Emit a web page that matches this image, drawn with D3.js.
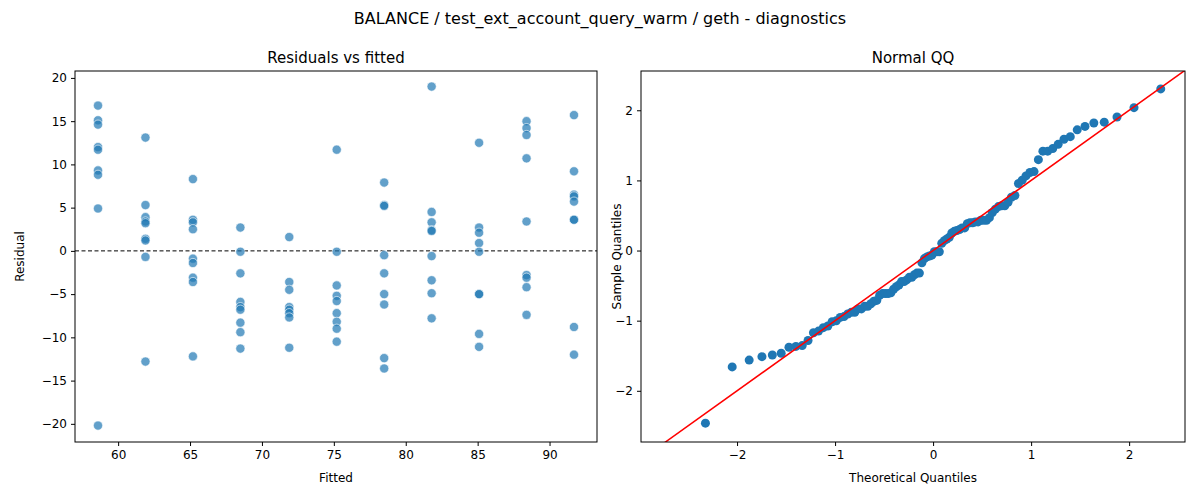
<!DOCTYPE html>
<html><head><meta charset="utf-8">
<script src="https://cdn.jsdelivr.net/npm/d3@7"></script>
<style>body{margin:0;background:#fff;font-family:"DejaVu Sans",sans-serif}</style>
</head><body><svg width="1200" height="500"></svg>
<script>
const fittedLevels = [58.6, 61.9, 65.2, 68.5, 71.9, 75.2, 78.5, 81.8, 85.1, 88.4, 91.7]
const residualGroups = [
  [16.8, 15.1, 14.6, 12.0, 11.7, 9.3, 8.8, 4.9, -20.2],
  [13.1, 5.3, 3.9, 3.4, 3.2, 1.4, 1.2, -0.7, -12.8],
  [8.3, 3.6, 3.3, 2.5, -0.9, -1.4, -3.1, -3.6, -12.2],
  [2.7, -0.1, -2.6, -5.9, -6.5, -6.8, -8.3, -9.4, -11.3],
  [1.6, -3.6, -4.5, -6.5, -6.8, -7.2, -7.7, -11.2],
  [11.7, -0.1, -4.0, -5.2, -5.8, -7.2, -8.2, -9.0, -10.5],
  [7.9, 5.3, 5.2, -0.5, -2.6, -5.0, -6.2, -12.4, -13.6],
  [19.0, 4.5, 3.3, 2.4, 2.3, -0.6, -3.4, -4.9, -7.8],
  [12.5, 2.7, 2.1, 0.9, -0.1, -5.0, -5.0, -9.6, -11.1],
  [15.0, 14.2, 13.4, 10.7, 3.4, -2.8, -3.1, -4.2, -7.4],
  [15.7, 9.2, 6.5, 6.3, 5.7, 3.6, 3.6, -8.8, -12.0]
]
const xTicksL = [60, 65, 70, 75, 80, 85, 90]
const yTicksL = [-20, -15, -10, -5, 0, 5, 10, 15, 20]
const qqTicks = [-2, -1, 0, 1, 2]

const svg = d3.select('svg')
const blue = '#1f77b4'

svg.append('text').attr('x', 600).attr('y', 24).attr('text-anchor', 'middle')
  .attr('font-size', 16).text('BALANCE / test_ext_account_query_warm / geth - diagnostics')

function frame(x0, x1, y0, y1, title, xlab, ylab, ylabOff, xs, ys, xt, yt) {
  const g = svg.append('g')
  g.append('g').attr('transform', `translate(0,${y1})`)
    .call(d3.axisBottom(xs).tickValues(xt).tickSize(4).tickPadding(4).tickFormat(d3.format('d')))
  g.append('g').attr('transform', `translate(${x0},0)`)
    .call(d3.axisLeft(ys).tickValues(yt).tickSize(4).tickPadding(4).tickFormat(d => d < 0 ? '\u2212' + Math.abs(d) : d))
  g.selectAll('.domain').remove()
  g.selectAll('.tick text').attr('font-size', 12).attr('font-family', 'DejaVu Sans').attr('fill', '#000')
  g.selectAll('.tick line').attr('stroke', '#000')
  g.append('rect').attr('x', x0).attr('y', y0).attr('width', x1 - x0).attr('height', y1 - y0)
    .attr('fill', 'none').attr('stroke', '#000').attr('stroke-width', 1)
  g.append('text').attr('x', (x0 + x1) / 2).attr('y', y0 - 8).attr('text-anchor', 'middle')
    .attr('font-size', 15).text(title)
  g.append('text').attr('x', (x0 + x1) / 2).attr('y', y1 + 40).attr('text-anchor', 'middle')
    .attr('font-size', 12).text(xlab)
  g.append('text').attr('transform', `translate(${x0 - ylabOff},${(y0 + y1) / 2}) rotate(-90)`)
    .attr('text-anchor', 'middle').attr('font-size', 12).text(ylab)
}

// Left: residuals vs fitted
const L = { x0: 75, x1: 597, y0: 71, y1: 442 }
const xL = d3.scaleLinear().domain([57.0, 93.3]).range([L.x0, L.x1])
const yL = d3.scaleLinear().domain([-22.1, 20.8]).range([L.y1, L.y0])
const pts = []
residualGroups.forEach((g, i) => g.forEach(r => pts.push({ f: fittedLevels[i], r })))
svg.append('line').attr('x1', L.x0).attr('x2', L.x1).attr('y1', yL(0)).attr('y2', yL(0))
  .attr('stroke', '#000').attr('stroke-dasharray', '4,2.5').attr('stroke-width', 1)
svg.append('g').selectAll('circle').data(pts).join('circle')
  .attr('cx', d => xL(d.f)).attr('cy', d => yL(d.r)).attr('r', 4.6)
  .attr('fill', blue).attr('fill-opacity', 0.7).attr('stroke', '#fff').attr('stroke-width', 0.6)
frame(L.x0, L.x1, L.y0, L.y1, 'Residuals vs fitted', 'Fitted', 'Residual', 51, xL, yL, xTicksL, yTicksL)

// Right: normal QQ
const R = { x0: 641, x1: 1185, y0: 71, y1: 442 }
const xR = d3.scaleLinear().domain([-2.98, 2.57]).range([R.x0, R.x1])
const yR = d3.scaleLinear().domain([-2.73, 2.56]).range([R.y1, R.y0])
const res = pts.map(d => d.r)
const m = d3.mean(res), sd = d3.deviation(res)
const sample = res.map(r => (r - m) / sd).sort(d3.ascending)
function invNorm(p) {
  const a = [-39.69683028665376, 220.9460984245205, -275.9285104469687, 138.357751867269, -30.66479806614716, 2.506628277459239]
  const b = [-54.47609879822406, 161.5858368580409, -155.6989798598866, 66.80131188771972, -13.28068155288572]
  const c = [-0.007784894002430293, -0.3223964580411365, -2.400758277161838, -2.549732539343734, 4.374664141464968, 2.938163982698783]
  const dd = [0.007784695709041462, 0.3224671290700398, 2.445134137142996, 3.754408661907416]
  const pl = 0.02425
  let q, r
  if (p < pl) { q = Math.sqrt(-2 * Math.log(p)); return (((((c[0]*q+c[1])*q+c[2])*q+c[3])*q+c[4])*q+c[5])/((((dd[0]*q+dd[1])*q+dd[2])*q+dd[3])*q+1) }
  if (p > 1 - pl) { q = Math.sqrt(-2 * Math.log(1 - p)); return -(((((c[0]*q+c[1])*q+c[2])*q+c[3])*q+c[4])*q+c[5])/((((dd[0]*q+dd[1])*q+dd[2])*q+dd[3])*q+1) }
  q = p - 0.5; r = q * q
  return (((((a[0]*r+a[1])*r+a[2])*r+a[3])*r+a[4])*r+a[5])*q/(((((b[0]*r+b[1])*r+b[2])*r+b[3])*r+b[4])*r+1)
}
const n = sample.length
const qq = sample.map((s, i) => ({ t: invNorm((i + 1) / (n + 1)), s }))
const cr = svg.append('defs').append('clipPath').attr('id', 'cr')
cr.append('rect').attr('x', R.x0).attr('y', R.y0).attr('width', R.x1 - R.x0).attr('height', R.y1 - R.y0)
svg.append('g').attr('clip-path', 'url(#cr)').selectAll('circle').data(qq).join('circle')
  .attr('cx', d => xR(d.t)).attr('cy', d => yR(d.s)).attr('r', 4.5).attr('fill', blue)
svg.append('line').attr('clip-path', 'url(#cr)')
  .attr('x1', xR(-3)).attr('y1', yR(-3)).attr('x2', xR(3)).attr('y2', yR(3))
  .attr('stroke', 'red').attr('stroke-width', 1.5)
frame(R.x0, R.x1, R.y0, R.y1, 'Normal QQ', 'Theoretical Quantiles', 'Sample Quantiles', 20, xR, yR, qqTicks, qqTicks)
</script></body></html>
